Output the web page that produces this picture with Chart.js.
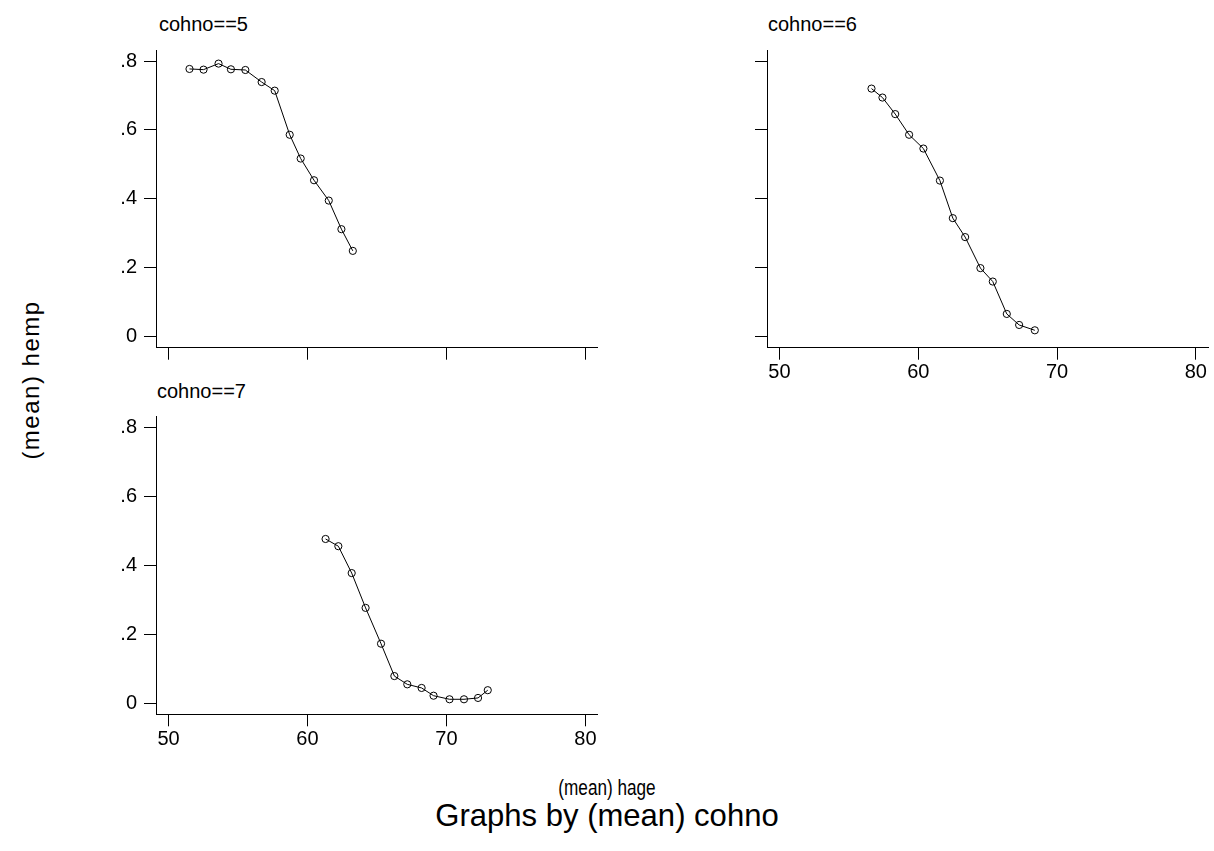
<!DOCTYPE html>
<html>
<head>
<meta charset="utf-8">
<script src="https://cdn.jsdelivr.net/npm/chart.js@4.4.1/dist/chart.umd.min.js"></script>
<style>
  html, body { margin:0; padding:0; background:#fff; }
  body { width:1214px; height:851px; position:relative; overflow:hidden; font-family:"Liberation Sans", Arial, sans-serif; color:#000; }
  canvas { position:absolute; }
  .t { position:absolute; white-space:nowrap; line-height:1; }
</style>
</head>
<body>
<div class="t" style="left:159px; top:14px; font-size:20px;">cohno==5</div>
<div class="t" style="left:768px; top:14px; font-size:20px;">cohno==6</div>
<div class="t" style="left:157px; top:381px; font-size:20px;">cohno==7</div>
<div class="t" id="ytitle" style="left:31px; top:380px; font-size:24px; letter-spacing:1.5px; transform:translate(-50%,-50%) rotate(-90deg);">(mean) hemp</div>
<div class="t" style="left:607px; top:777px; font-size:22px; transform:translateX(-50%) scaleX(0.78);">(mean) hage</div>
<div class="t" style="left:607px; top:799px; font-size:32px; transform:translateX(-50%) scaleX(0.97);">Graphs by (mean) cohno</div>

<canvas id="c5" width="530" height="340" style="left:90px; top:40px;"></canvas>
<canvas id="c6" width="514" height="350" style="left:700px; top:40px;"></canvas>
<canvas id="c7" width="530" height="350" style="left:90px; top:406px;"></canvas>

<script>
// ---- data ----
const xTicks = [50, 60, 70, 80];
const yTicks = [0, 0.2, 0.4, 0.6, 0.8];
const yTickLabels = ["0", ".2", ".4", ".6", ".8"];

const age5  = [51.51, 52.52, 53.60, 54.49, 55.53, 56.70, 57.64, 58.72, 59.51, 60.47, 61.53, 62.44, 63.26];
const hemp5 = [0.777, 0.775, 0.7925, 0.776, 0.774, 0.739, 0.714, 0.586, 0.517, 0.454, 0.395, 0.312, 0.249];

const age6  = [56.63, 57.42, 58.34, 59.34, 60.37, 61.56, 62.49, 63.38, 64.48, 65.37, 66.38, 67.27, 68.40];
const hemp6 = [0.720, 0.694, 0.646, 0.586, 0.546, 0.453, 0.344, 0.289, 0.199, 0.160, 0.066, 0.034, 0.0185];

const age7  = [61.30, 62.22, 63.18, 64.18, 65.29, 66.25, 67.18, 68.21, 69.07, 70.22, 71.26, 72.27, 72.97];
const hemp7 = [0.477, 0.456, 0.378, 0.277, 0.173, 0.079, 0.055, 0.0445, 0.022, 0.0116, 0.0116, 0.0155, 0.038];

const X_MIN = 49.1, X_MAX = 80.88;
const Y_MIN = -0.032, Y_MAX = 0.832;

const FONT = { family: "'Liberation Sans', Arial, sans-serif", size: 20 };

function panel(id, ages, hemps, opt) {
  const pts = ages.map((a, i) => ({ x: a, y: hemps[i] }));
  new Chart(document.getElementById(id), {
    type: 'scatter',
    data: { datasets: [{
      data: pts,
      showLine: true,
      borderColor: '#000',
      borderWidth: 1,
      pointStyle: 'circle',
      pointRadius: 3.6,
      pointBorderWidth: 1,
      pointBorderColor: '#000',
      pointBackgroundColor: 'rgba(0,0,0,0)',
      tension: 0
    }]},
    options: {
      responsive: false,
      animation: false,
      events: [],
      layout: { padding: { top: opt.padTop, right: opt.padRight, left: 0, bottom: 0 } },
      plugins: { legend: { display: false }, tooltip: { enabled: false } },
      scales: {
        x: {
          type: 'linear', min: X_MIN, max: X_MAX,
          afterBuildTicks: s => { s.ticks = xTicks.map(v => ({ value: v })); },
          afterFit: s => { s.height = opt.xH; s.paddingLeft = 0; s.paddingRight = 0; s.paddingTop = 0; s.paddingBottom = 0; },
          ticks: { display: opt.showX, font: FONT, color: '#000', padding: 1, maxRotation: 0, autoSkip: false,
                   callback: v => String(v) },
          grid: { display: true, drawOnChartArea: false, drawTicks: true, tickLength: 12, tickColor: '#000', tickWidth: 1 },
          border: { display: true, color: '#000', width: 1 }
        },
        y: {
          type: 'linear', min: Y_MIN, max: Y_MAX,
          afterBuildTicks: s => { s.ticks = yTicks.map(v => ({ value: v })); },
          afterFit: s => { s.width = opt.yW; s.paddingTop = 0; s.paddingBottom = 0; s.paddingLeft = 0; s.paddingRight = 0; },
          ticks: { display: opt.showY, font: FONT, color: '#000', padding: 7, autoSkip: false,
                   callback: (v) => { const i = yTicks.findIndex(t => Math.abs(t - v) < 1e-9); return i >= 0 ? yTickLabels[i] : ''; } },
          grid: { display: true, drawOnChartArea: false, drawTicks: true, tickLength: 12, tickColor: '#000', tickWidth: 1 },
          border: { display: true, color: '#000', width: 1 }
        }
      }
    }
  });
}

panel('c5', age5, hemp5, { showX: false, showY: true, padTop: 10, padRight: 22.3, xH: 32.3, yW: 66 });
panel('c6', age6, hemp6, { showX: true, showY: false, padTop: 10, padRight: 6, xH: 42.3, yW: 67 });
panel('c7', age7, hemp7, { showX: true, showY: true, padTop: 10.7, padRight: 22.3, xH: 41.7, yW: 66 });
</script>
</body>
</html>
